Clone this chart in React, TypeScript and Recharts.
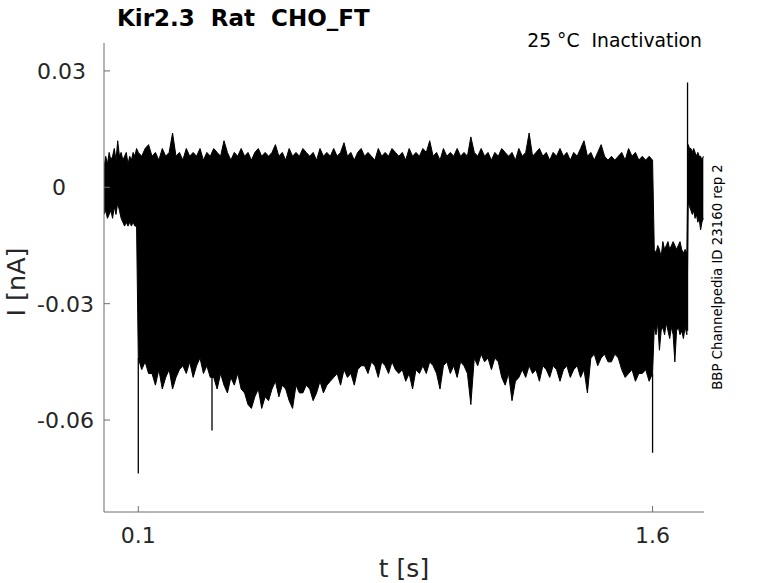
import React from 'react';
import { ComposedChart, Area, Line, XAxis, YAxis } from 'recharts';

// current envelope of all sweeps, in pA (converted to nA for the plot)
const preStart = 0;
const preStep = 0.005;
const preHi = [5, 8, 6, 9, 7, 8, 10, 7, 12, 8, 9, 7, 8, 9, 6, 8, 7, 9, 8, 10];
const preLo = [-7, -6, -8, -7, -6, -8, -5, -7, -4, -6, -8, -9, -10, -9, -10, -9, -10, -9, -10, -10];

const mainStart = 0.1;
const mainStep = 0.01;
const mainHi = [
  9, 8, 10, 11, 8, 9, 7, 10, 8, 9, 14, 8, 9, 7, 10, 8, 9, 8, 10, 7,
  9, 8, 10, 9, 8, 12, 9, 7, 9, 8, 10, 8, 9, 7, 9, 10, 8, 9, 8, 9,
  11, 8, 9, 7, 10, 8, 9, 8, 10, 9, 8, 9, 7, 10, 8, 9, 8, 10, 8, 9,
  11.5, 8, 9, 7, 9, 10, 8, 9, 8, 7, 10, 8, 9, 8, 10, 9, 8, 9, 7, 10,
  8, 9, 8, 10, 9, 12, 8, 9, 7, 10, 8, 9, 8, 10, 8, 9, 8, 13, 9, 8,
  10, 8, 9, 7, 9, 8, 10, 9, 8, 9, 7, 10, 8, 9, 14, 8, 9, 10, 8, 9,
  7, 9, 8, 10, 8, 9, 7, 9, 8, 10, 12, 8, 9, 7, 9, 11, 8, 7, 8, 7,
  8, 9, 7, 10, 8, 9, 7, 8, 7, 8, 7,
];
const mainLo = [
  -44, -47, -45, -48,
  -48, -51, -47, -52, -49, -47, -52, -49, -47,
  -46, -48, -45, -49, -46, -44, -48, -46, -49,
  -49, -52, -48, -51, -53, -49, -51, -48, -52,
  -53, -56, -57, -54, -52, -57, -54, -55,
  -52, -50, -54, -51, -52, -55, -57, -51, -53,
  -53, -51, -52, -55, -53, -50, -53, -51, -50,
  -49, -48, -51, -47, -49, -48, -51, -47, -46,
  -46, -48, -45, -46, -49, -45, -46, -48, -45, -47,
  -48, -47, -50, -48, -52, -47, -48,
  -46, -48, -45, -46, -48, -52,
  -46, -45, -48, -46, -49, -45, -46, -48,
  -56,
  -44, -46, -43, -45, -44, -47, -44, -45,
  -49, -51, -48, -55, -50, -49,
  -47, -49, -46, -48, -47, -50, -46, -47, -49, -46, -47, -50, -47, -46, -49, -47, -46, -49, -47,
  -53,
  -44, -43, -46, -44, -43, -45, -45, -43, -44,
  -47, -49, -48, -47, -50, -48, -48, -47, -50, -48,
];

const postStart = 1.605;
const postStep = 0.005;
const postHi = [-16, -17, -15, -16, -18, -14, -16, -15, -14, -16, -15, -14, -15, -16, -15, -14, -16, -17, -16, -17];
const postLo = [-36, -38, -35, -42, -37, -36, -38, -35, -37, -39, -36, -38, -45, -37, -36, -38, -37, -39, -36, -38];

const tailStart = 1.704;
const tailStep = 0.004;
const tailHi = [11, 10, 10, 9, 10, 9, 8, 9, 8, 8, 7, 8];
const tailLo = [-4, -5, -6, -7, -6, -8, -7, -9, -8, -11, -9, -8];

// single-sample transients (t in s, from/to in pA)
const spikeT = [0.1, 0.315, 1.6, 1.702];
const spikeFrom = [-44, -49, -48, -37];
const spikeTo = [-73.8, -62.7, -68.4, 27];

const xTicks = [0.1, 1.6];
const yTicks = [-0.06, -0.03, 0, 0.03];

const segments = [
  { start: preStart, step: preStep, hi: preHi, lo: preLo },
  { start: mainStart, step: mainStep, hi: mainHi, lo: mainLo },
  { start: postStart, step: postStep, hi: postHi, lo: postLo },
  { start: tailStart, step: tailStep, hi: tailHi, lo: tailLo },
];

const bandData = segments.flatMap((s) =>
  s.lo.map((l, i) => ({ t: +(s.start + i * s.step).toFixed(4), range: [l / 1000, s.hi[i] / 1000] }))
);

const spikeData = spikeT.flatMap((t, i) => [
  { t, v: spikeFrom[i] / 1000 },
  { t, v: spikeTo[i] / 1000 },
  { t: t + 0.0001, v: null },
]);

const font = 'DejaVu Sans, sans-serif';
const ink = '#262626';
const axisColor = '#6e6e6e';

const YTick = (props: any) => {
  const { x, y, payload } = props;
  const label = String(payload.value);
  return (
    <g>
      <line x1={x} x2={x + 6} y1={y} y2={y} stroke={axisColor} />
      <text x={x - 67 + (payload.value === 0 ? 15 : 0)} y={y + 8} fontSize={22} fill={ink} fontFamily={font}>
        {label}
      </text>
    </g>
  );
};

const XTick = (props: any) => {
  const { x, y, payload } = props;
  return (
    <g>
      <line x1={x} x2={x} y1={y} y2={y - 6} stroke={axisColor} />
      <text x={x} y={y + 31} textAnchor="middle" fontSize={22} fill={ink} fontFamily={font}>
        {String(payload.value)}
      </text>
    </g>
  );
};

export default function App() {
  return (
    <div style={{ position: 'absolute', left: 0, top: 0, width: 778, height: 583, background: '#fff' }}>
      <ComposedChart width={778} height={583} margin={{ top: 43, right: 74, bottom: 41, left: 44 }}>
        <XAxis
          type="number"
          dataKey="t"
          domain={[0, 1.75]}
          ticks={xTicks}
          allowDataOverflow
          height={30}
          tickSize={0}
          tickMargin={0}
          tickLine={false}
          axisLine={{ stroke: axisColor }}
          tick={<XTick />}
        />
        <YAxis
          type="number"
          domain={[-0.0837, 0.0372]}
          ticks={yTicks}
          allowDataOverflow
          width={60}
          tickSize={0}
          tickMargin={0}
          tickLine={false}
          axisLine={{ stroke: axisColor }}
          tick={<YTick />}
        />
        <Area
          data={bandData}
          dataKey="range"
          type="linear"
          fill="#000"
          fillOpacity={1}
          stroke="#000"
          strokeWidth={1}
          isAnimationActive={false}
        />
        <Line
          data={spikeData}
          dataKey="v"
          type="linear"
          stroke="#000"
          strokeWidth={1.3}
          dot={false}
          connectNulls={false}
          isAnimationActive={false}
        />
      </ComposedChart>
      <svg width={778} height={583} style={{ position: 'absolute', left: 0, top: 0, pointerEvents: 'none' }}>
        <text x={117} y={26} fontSize={23} fontWeight="bold" fill="#000" fontFamily={font} style={{ whiteSpace: 'pre' }}>
          {'Kir2.3  Rat  CHO_FT'}
        </text>
        <text x={702} y={47} fontSize={18.8} textAnchor="end" fill="#000" fontFamily={font} style={{ whiteSpace: 'pre' }}>
          {'25 °C  Inactivation'}
        </text>
        <text
          transform="translate(722,277) rotate(-90)"
          fontSize={13.3}
          textAnchor="middle"
          fill="#000"
          fontFamily={font}
        >
          BBP Channelpedia ID 23160 rep 2
        </text>
        <text transform="translate(25,282) rotate(-90)" fontSize={25.5} textAnchor="middle" fill={ink} fontFamily={font}>
          I [nA]
        </text>
        <text x={404} y={577} fontSize={25} textAnchor="middle" fill={ink} fontFamily={font}>
          t [s]
        </text>
      </svg>
    </div>
  );
}
